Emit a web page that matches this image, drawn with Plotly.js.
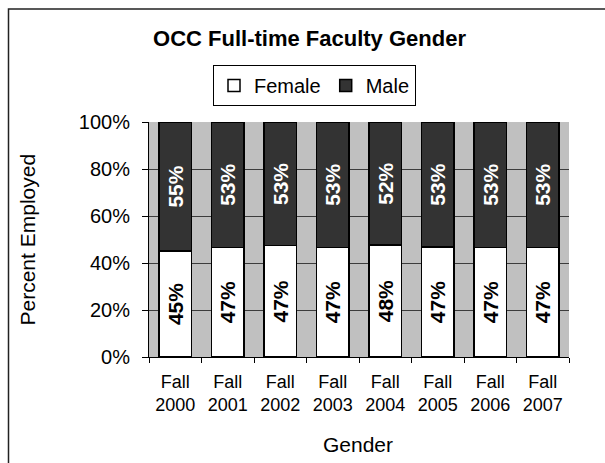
<!DOCTYPE html>
<html>
<head>
<meta charset="utf-8">
<script src="https://cdn.plot.ly/plotly-3.0.1.min.js"></script>
<style>html,body{margin:0;padding:0;background:#fff;}#chart{width:605px;height:463px;}</style>
</head>
<body>
<div id="chart"></div>
<script>
var categories = ["Fall<br>2000","Fall<br>2001","Fall<br>2002","Fall<br>2003","Fall<br>2004","Fall<br>2005","Fall<br>2006","Fall<br>2007"];
var female = [45.2, 46.7, 47.4, 46.7, 47.6, 46.8, 46.7, 46.7];
var male = [54.8, 53.3, 52.6, 53.3, 52.4, 53.2, 53.3, 53.3];
var yTicks = [0, 20, 40, 60, 80, 100];
var yTickLabels = ["0%", "20%", "40%", "60%", "80%", "100%"];

var FONT = "Liberation Sans, Arial, sans-serif";
var L = 149, R = 36, T = 122, B = 106;
var PW = 605 - L - R, PH = 463 - T - B;
function px(x){ return (x - L) / PW; }
function py(y){ return (463 - B - y) / PH; }

var traces = [
  {
    type: "bar", name: "Female", x: categories, y: female,
    marker: {color: "#ffffff", line: {color: "#000000", width: 1.5}},
    texttemplate: "%{y:.0f}%", textposition: "inside", insidetextanchor: "middle",
    textangle: -90, constraintext: "none",
    insidetextfont: {family: FONT, size: 21, color: "#000000", weight: "bold"},
    hoverinfo: "skip"
  },
  {
    type: "bar", name: "Male", x: categories, y: male,
    marker: {color: "#333333", line: {color: "#000000", width: 1.5}},
    texttemplate: "%{y:.0f}%", textposition: "inside", insidetextanchor: "middle",
    textangle: -90, constraintext: "none",
    insidetextfont: {family: FONT, size: 21, color: "#ffffff", weight: "bold"},
    hoverinfo: "skip"
  }
];

var layout = {
  width: 605, height: 463,
  margin: {l: L, r: R, t: T, b: B, pad: 0},
  paper_bgcolor: "#ffffff",
  plot_bgcolor: "#c0c0c0",
  barmode: "stack",
  bargap: 0.39,
  font: {family: FONT, color: "#000000"},
  title: {
    text: "<b>OCC Full-time Faculty Gender</b>",
    font: {family: FONT, size: 22, color: "#000000"},
    xref: "container", yref: "container",
    x: 309.5 / 605, xanchor: "center",
    y: 1 - 38 / 463, yanchor: "middle"
  },
  showlegend: true,
  legend: {
    orientation: "h",
    x: px(314.5), xanchor: "center",
    y: py(65), yanchor: "top",
    bgcolor: "#ffffff", bordercolor: "#000000", borderwidth: 1,
    font: {family: FONT, size: 20, color: "#000000"},
    traceorder: "normal"
  },
  xaxis: {
    type: "category",
    tickson: "boundaries",
    ticks: "outside", ticklen: 5, tickwidth: 1, tickcolor: "#000000",
    showline: true, linecolor: "#000000", linewidth: 1,
    showgrid: false,
    tickfont: {family: FONT, size: 18, color: "#000000"},
    ticklabelstandoff: 8,
    fixedrange: true
  },
  yaxis: {
    range: [0, 100],
    tickmode: "array",
    tickvals: yTicks,
    ticktext: yTickLabels,
    ticks: "outside", ticklen: 6, tickwidth: 1, tickcolor: "#000000",
    showline: true, linecolor: "#000000", linewidth: 1,
    showgrid: true, gridcolor: "#3c3c3c", gridwidth: 1,
    zeroline: false,
    tickfont: {family: FONT, size: 20, color: "#000000"},
    ticklabelstandoff: 8,
    fixedrange: true
  },
  annotations: [
    {
      text: "Percent Employed", xref: "paper", yref: "paper",
      x: px(27), y: 0.5, xanchor: "center", yanchor: "middle",
      textangle: -90, showarrow: false,
      font: {family: FONT, size: 21, color: "#000000"}
    },
    {
      text: "Gender", xref: "paper", yref: "paper",
      x: px(358), y: py(444), xanchor: "center", yanchor: "middle",
      showarrow: false,
      font: {family: FONT, size: 21, color: "#000000"}
    }
  ],
  shapes: [
    {
      type: "rect", xref: "paper", yref: "paper",
      x0: px(8.5), x1: px(640), y0: py(9), y1: py(500),
      line: {color: "#222222", width: 1.5}, fillcolor: "rgba(0,0,0,0)",
      layer: "below"
    }
  ]
};

Plotly.newPlot("chart", traces, layout, {displayModeBar: false, staticPlot: true});
</script>
</body>
</html>
